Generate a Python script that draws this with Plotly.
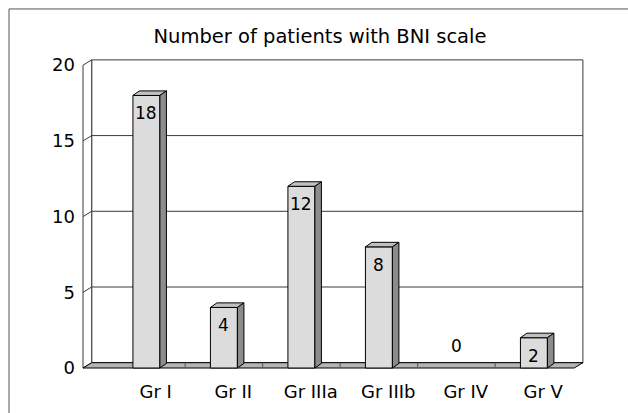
import plotly.graph_objects as go

# ---- data ----
categories = ["Gr I", "Gr II", "Gr IIIa", "Gr IIIb", "Gr IV", "Gr V"]
patients = [18, 4, 12, 8, 0, 2]
y_ticks = [0, 5, 10, 15, 20]
title_text = "Number of patients with BNI scale"

# ---- style / geometry (axis units) ----
FONT = "DejaVu Sans"
BAR_HW = 0.174        # half width of bar front face
BAR_DX, BAR_DY = 0.084, 0.30   # bar depth offset
WALL_DX, WALL_DY = 0.112, 0.35  # wall depth offset
X_LEFT, X_RIGHT = -0.818, 5.52  # front extent of floor
Y_TOP = 20
FRONT_C, TOP_C, SIDE_C, FLOOR_C = "#dcdcdc", "#c0c0c0", "#8c8c8c", "#b4b4b4"
EDGE = "#000000"
GRID = "#3a3a3a"

xs = list(range(len(categories)))
fig = go.Figure()


def poly(px, py, fill, line=EDGE, width=1):
    fig.add_trace(go.Scatter(x=px + [px[0]], y=py + [py[0]], mode="lines",
                             fill="toself", fillcolor=fill,
                             line=dict(color=line, width=width),
                             hoverinfo="skip", showlegend=False))


def seg(px, py, color=GRID, width=1):
    fig.add_trace(go.Scatter(x=px, y=py, mode="lines",
                             line=dict(color=color, width=width),
                             hoverinfo="skip", showlegend=False))


# back wall
bxl, bxr = X_LEFT + WALL_DX, X_RIGHT + WALL_DX
poly([bxl, bxr, bxr, bxl], [WALL_DY, WALL_DY, Y_TOP + WALL_DY, Y_TOP + WALL_DY],
     "#ffffff", GRID)
# left wall
poly([X_LEFT, bxl, bxl, X_LEFT], [0, WALL_DY, Y_TOP + WALL_DY, Y_TOP],
     "#ffffff", GRID)
# gridlines
for v in y_ticks[1:-1]:
    seg([X_LEFT, bxl, bxr], [v, v + WALL_DY, v + WALL_DY])
# floor
poly([X_LEFT, X_RIGHT, bxr, bxl], [0, 0, WALL_DY, WALL_DY], FLOOR_C, EDGE)
# floor ticks between categories
for i in xs[:-1]:
    seg([i + 0.5, i + 0.5], [WALL_DY * 0.15, WALL_DY], "#555555")

# bars: front, top and side faces, drawn from the values
for x, v in zip(xs, patients):
    if v <= 0:
        continue
    l, r = x - BAR_HW, x + BAR_HW
    poly([l, r, r, l], [0, 0, v, v], FRONT_C)
    poly([l, l + BAR_DX, r + BAR_DX, r], [v, v + BAR_DY, v + BAR_DY, v], TOP_C)
    poly([r, r + BAR_DX, r + BAR_DX, r], [0, BAR_DY, v + BAR_DY, v], SIDE_C)

# value labels
for x, v in zip(xs, patients):
    fig.add_annotation(x=x, y=v, text=str(v), showarrow=False,
                       yanchor="top" if v > 0 else "bottom",
                       yshift=-6 if v > 0 else 10,
                       font=dict(family=FONT, size=17, color="#000000"))

# outer frame (top and left edges visible)
fig.add_shape(type="rect", xref="paper", yref="paper",
              x0=-0.1403, y0=-0.2, x1=1.2, y1=1.153,
              line=dict(color="#555555", width=1))

fig.update_layout(
    width=628, height=413,
    margin=dict(l=80, r=42, t=57, b=42, autoexpand=False),
    paper_bgcolor="#ffffff", plot_bgcolor="#ffffff",
    title=dict(text=title_text, x=320 / 628, xanchor="center",
               y=1 - 36 / 413, yanchor="middle",
               font=dict(family=FONT, size=19.5, color="#000000")),
    xaxis=dict(range=[-0.857, 5.672], showgrid=False, zeroline=False,
               showline=False, tickmode="array", automargin=False,
               tickvals=[x + 0.12 for x in xs], ticktext=categories,
               ticks="", ticklabelstandoff=8,
               tickfont=dict(family=FONT, size=18, color="#000000")),
    yaxis=dict(range=[-0.198, 20.54], showgrid=False, zeroline=False,
               showline=False, tickmode="array", tickvals=y_ticks,
               automargin=False, ticks="", ticklabelstandoff=4,
               tickfont=dict(family=FONT, size=18, color="#000000")),
)

fig.write_html("out.html",
               config={"displayModeBar": False},
               post_script="document.body.style.margin='0px';"
                           "document.body.style.overflow='hidden';")
